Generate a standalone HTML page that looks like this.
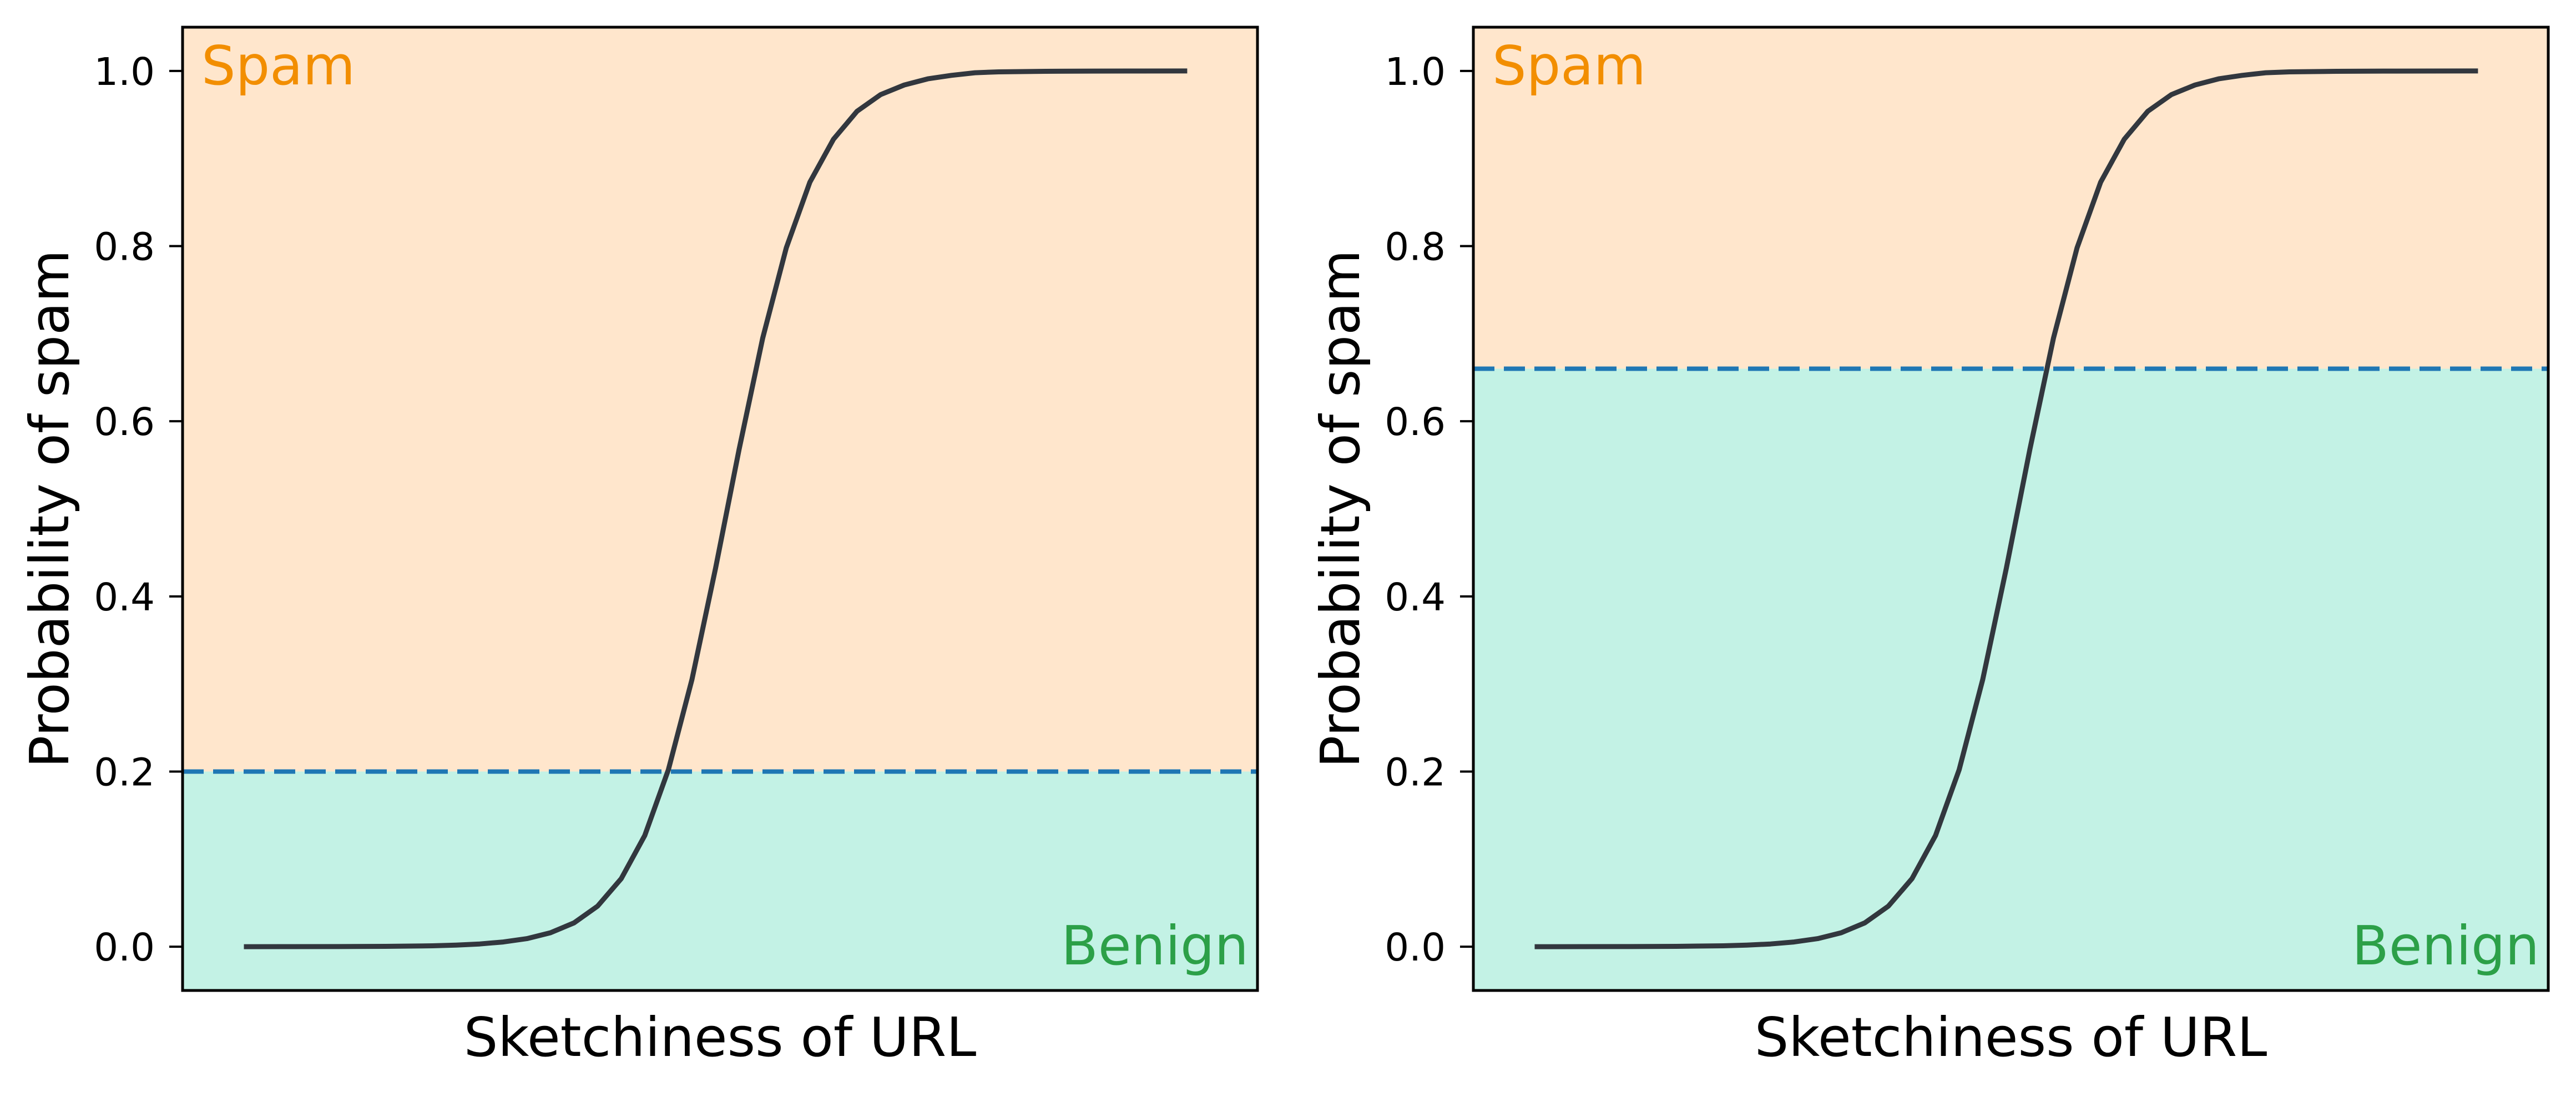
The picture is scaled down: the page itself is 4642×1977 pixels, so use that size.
<!DOCTYPE html>
<html><head><meta charset="utf-8"><style>
html,body{margin:0;padding:0;background:#fff;}
svg{display:block;font-family:"DejaVu Sans","Liberation Sans",sans-serif;}
</style></head><body>
<svg id="chart" width="4642" height="1977" viewBox="0 0 4642 1977" xmlns="http://www.w3.org/2000/svg"></svg>
<script>
const curveX = [-10,-9,-8,-7,-6,-5.5,-5,-4.5,-4,-3.5,-3,-2.5,-2,-1.5,-1,-0.5,0,0.5,1,1.5,2,2.5,3,3.5,4,4.5,5,5.5,6,7,8,9,10];
const curveY = [0.00002,0.00005,0.0001,0.0004,0.001,0.0018,0.0031,0.0054,0.0092,0.0159,0.0272,0.0463,0.0776,0.127,0.202,0.305,0.432,0.568,0.695,0.798,0.873,0.922,0.954,0.973,0.984,0.991,0.995,0.998,0.999,0.9996,0.9999,0.99995,0.99998];
const thresholds = [0.2, 0.66];
const yTicks = [0, 0.2, 0.4, 0.6, 0.8, 1.0];
const yTickLabels = ["0.0","0.2","0.4","0.6","0.8","1.0"];
const panelNames = ["low-threshold","high-threshold"];

const NS = "http://www.w3.org/2000/svg";
const svgEl = document.getElementById('chart');
function mk(tag, attrs, parent){const e=document.createElementNS(NS,tag);for(const k in attrs)e.setAttribute(k,attrs[k]);(parent||svgEl).appendChild(e);return e;}

const axW = 1937, axTop = 49, axBottom = 1785;
const lefts = [329, 2655];
const xMin = -11.3, xMax = 11.49, yMin = -0.05, yMax = 1.05;

thresholds.forEach((th, i) => {
  const L = lefts[i], R = L + axW;
  const sx = v => L + (v - xMin) / (xMax - xMin) * axW;
  const sy = v => axBottom - (v - yMin) / (yMax - yMin) * (axBottom - axTop);
  const g = mk('g', {});
  
  

  const spam = mk('rect', {x:L, y:axTop, width:axW, height:sy(th)-axTop, fill:'#ffe6cc'}, g);
  
  
  const ben = mk('rect', {x:L, y:sy(th), width:axW, height:axBottom-sy(th), fill:'#c3f2e5'}, g);
  
  

  const tl = mk('line', {x1:L, x2:R, y1:sy(th), y2:sy(th), stroke:'#1f77b4', 'stroke-width':8, 'stroke-dasharray':'38 17'}, g);
  
  

  const d = curveX.map((x, k) => (k ? 'L' : 'M') + sx(x).toFixed(1) + ' ' + sy(curveY[k]).toFixed(1)).join(' ');
  const c = mk('path', {d:d, fill:'none', stroke:'#32373e', 'stroke-width':9, 'stroke-linejoin':'round', 'stroke-linecap':'butt'}, g);
  
  

  const fr = mk('rect', {x:L, y:axTop, width:axW, height:axBottom-axTop, fill:'none', stroke:'#000', 'stroke-width':5}, g);
  
  

  yTicks.forEach((t, k) => {
    const tk = mk('line', {x1:L-24, x2:L, y1:sy(t), y2:sy(t), stroke:'#000', 'stroke-width':4}, g);
    
    
    const lb = mk('text', {x:L-50, y:sy(t)+25, 'text-anchor':'end', 'font-size':69, fill:'#000'}, g);
    lb.textContent = yTickLabels[k];
    
    
  });

  const st = mk('text', {x:L+34, y:152, 'font-size':97, fill:'#f28e00'}, g);
  st.textContent = 'Spam';
  
  
  const bt = mk('text', {x:R-16, y:1738, 'text-anchor':'end', 'font-size':97, fill:'#2ca048'}, g);
  bt.textContent = 'Benign';
  
  

  const xl = mk('text', {x:L+axW/2, y:1903, 'text-anchor':'middle', 'font-size':97, fill:'#000'}, g);
  xl.textContent = 'Sketchiness of URL';
  
  
  const yx = L - 206, yy = (axTop + axBottom) / 2;
  const yl = mk('text', {x:yx, y:yy, 'text-anchor':'middle', 'font-size':97, fill:'#000', transform:'rotate(-90 '+yx+' '+yy+')'}, g);
  yl.textContent = 'Probability of spam';
  
  
});
</script>
</body></html>
